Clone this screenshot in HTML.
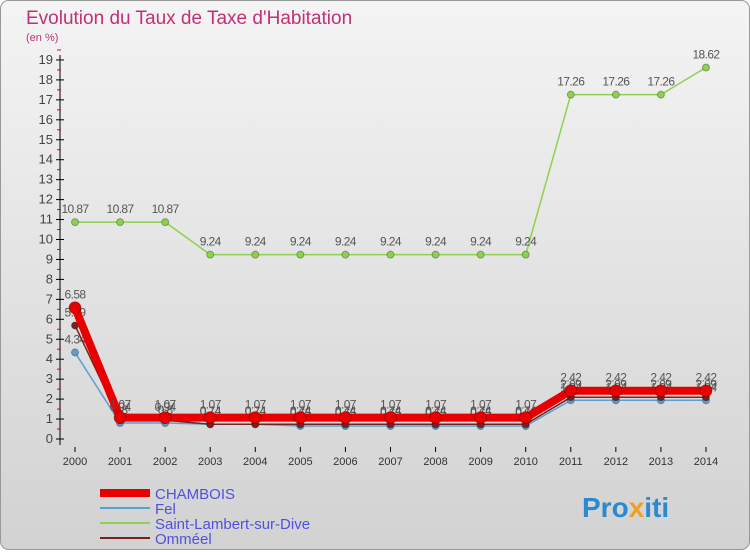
<!DOCTYPE html>
<html><head><meta charset="utf-8"><style>
body{margin:0;width:750px;height:550px;overflow:hidden;font-family:"Liberation Sans",sans-serif}
</style></head><body>
<svg width="750" height="550" xmlns="http://www.w3.org/2000/svg">
<defs><linearGradient id="bg" x1="0" y1="0" x2="0" y2="1"><stop offset="0" stop-color="#f4f4f4"/><stop offset="1" stop-color="#d2d2d2"/></linearGradient></defs>
<rect x="0.5" y="0.5" width="749" height="549" rx="8" fill="url(#bg)" stroke="#999"/>
<text x="26" y="24" font-size="19" fill="#c0307a">Evolution du Taux de Taxe d'Habitation</text>
<text x="26" y="41" font-size="11" fill="#c0307a">(en %)</text>
<g id="axes"></g><g id="series"></g><g id="legend"></g>
<text x="582" y="517" font-size="28" font-weight="bold" fill="#2a8ad0">Pro<tspan fill="#f0a020">x</tspan>iti</text>
</svg>
<script>
const years=[2000,2001,2002,2003,2004,2005,2006,2007,2008,2009,2010,2011,2012,2013,2014];
const chambois=[6.58,1.07,1.07,1.07,1.07,1.07,1.07,1.07,1.07,1.07,1.07,2.42,2.42,2.42,2.42];
const fel=[4.34,0.8,0.8,0.74,0.74,0.65,0.65,0.65,0.65,0.65,0.65,1.94,1.94,1.94,1.94];
const saint=[10.87,10.87,10.87,9.24,9.24,9.24,9.24,9.24,9.24,9.24,9.24,17.26,17.26,17.26,18.62];
const ommeel=[5.69,0.94,0.94,0.74,0.74,0.74,0.74,0.74,0.74,0.74,0.74,2.09,2.09,2.09,2.09];
const yTicks=[0,1,2,3,4,5,6,7,8,9,10,11,12,13,14,15,16,17,18,19];
const NS="http://www.w3.org/2000/svg";
const X=i=>75+i*45.07, Y=v=>439-v*19.95;
function el(t,a,p){const e=document.createElementNS(NS,t);for(const k in a)e.setAttribute(k,a[k]);p.appendChild(e);return e;}
const ax=document.getElementById('axes');
const yl=el('line',{x1:60,y1:Y(19)-5,x2:60,y2:Y(0)+6,stroke:'#000'},ax);


yTicks.forEach(v=>{
 el('line',{x1:56,y1:Y(v),x2:64,y2:Y(v),stroke:'#000'},ax);
 el('line',{x1:57,y1:Y(v+0.5),x2:61,y2:Y(v+0.5),stroke:'#e00'},ax);
 const t=el('text',{x:53,y:Y(v)+4,'font-size':13,fill:'#444','text-anchor':'end'},ax);t.textContent=v;
 
 
});
years.forEach((y,i)=>{
 el('line',{x1:X(i),y1:447,x2:X(i),y2:452,stroke:'#000'},ax);
 const t=el('text',{x:X(i),y:465,'font-size':11,fill:'#333','text-anchor':'middle'},ax);t.textContent=y;
 
 
});
const sg=document.getElementById('series');
function draw(vals,color,w,r,name,labels){
 const g=el('g',{},sg);
 
 
 el('polyline',{points:vals.map((v,i)=>X(i)+','+Y(v)).join(' '),fill:'none',stroke:color,'stroke-width':w,'stroke-linejoin':'round'},g);
 vals.forEach((v,i)=>{
  const c=el('circle',{cx:X(i),cy:Y(v),r:r,fill:color,stroke:'rgba(0,0,0,0.3)'},g);
  
  
  if(labels){const t=el('text',{x:X(i),y:Y(v)-9,'font-size':12,fill:'#555','text-anchor':'middle','letter-spacing':'-0.6'},g);t.textContent=String(v);}
 });
}
draw(saint,'#8ed050',1.5,3.5,'saint-lambert',true);
draw(fel,'#5aa0d0',1.5,3.5,'fel',true);
draw(ommeel,'#7a2020',1.5,3.5,'ommeel',true);
draw(chambois,'#e80000',8,6,'chambois',true);
const lg=document.getElementById('legend');
[['CHAMBOIS','#e80000',8],['Fel','#5aa0d0',2],['Saint-Lambert-sur-Dive','#8ed050',2],['Omméel','#7a2020',2]].forEach((d,i)=>{
 const y=493+i*15;
 const g=el('g',{},lg);
 
 
 el('line',{x1:100,y1:y,x2:150,y2:y,stroke:d[1],'stroke-width':d[2]},g);
 const t=el('text',{x:155,y:y+6,'font-size':15,fill:'#5050e0'},g);t.textContent=d[0];
});
</script>
</body></html>
